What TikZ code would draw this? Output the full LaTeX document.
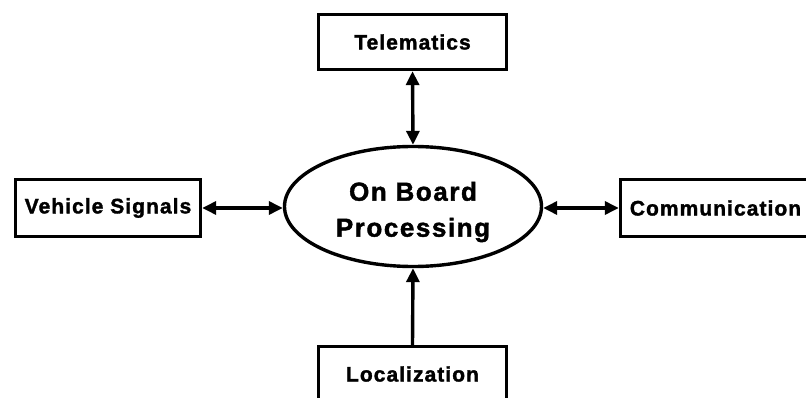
\documentclass[tikz,border=0pt]{standalone}
\usepackage{fontspec}
\setmainfont{Liberation Sans}[FakeBold=1.6]
\usetikzlibrary{arrows.meta,shapes.geometric}
\tikzset{
  lbl/.style={font=\fontsize{21}{24}\selectfont\bfseries\addfontfeature{LetterSpace=5}},
  box/.style={draw=black, line width=3.4pt, fill=white, inner sep=0pt,
    minimum width=188pt, minimum height=55pt, lbl},
  sidebox/.style={box, minimum width=185pt, minimum height=57pt},
  hub/.style={draw=black, line width=3.4pt, ellipse, inner sep=0pt,
    minimum width=257pt, minimum height=120pt},
  hubtext/.style={align=center, inner sep=0pt,
    font=\fontsize{26}{36}\selectfont\bfseries\addfontfeature{LetterSpace=6}},
  tip/.style={Triangle[length=14pt,width=13pt]},
  link/.style={line width=3.4pt, {Triangle[length=14pt,width=13pt]}-{Triangle[length=14pt,width=13pt]}},
  onelink/.style={line width=3.4pt, -{Triangle[length=14pt,width=13pt]}}
}
\begin{document}
\begin{tikzpicture}[x=1pt,y=-1pt]
\useasboundingbox (0,0) rectangle (806,398);
\node[hub] (obp) at (413,206.5) {};
\node[hubtext] (obptext) at (413,212) {On Board\\Processing};
\node[box] (tel) at (412.5,42) {Telematics};
\node[sidebox] (veh) at (108,208) {Vehicle Signals};
\node[sidebox, minimum width=190pt] (com) at (715.5,208) {Communication};
\node[box] (loc) at (412.5,374) {Localization};
\draw[link] (tel.south) -- (obp.north);
\draw[link] (veh.east) -- (veh.east -| obp.west);
\draw[link] (obp.east |- com.west) -- (com.west);
\draw[onelink] (loc.north) -- (obp.south);
\end{tikzpicture}
\end{document}
